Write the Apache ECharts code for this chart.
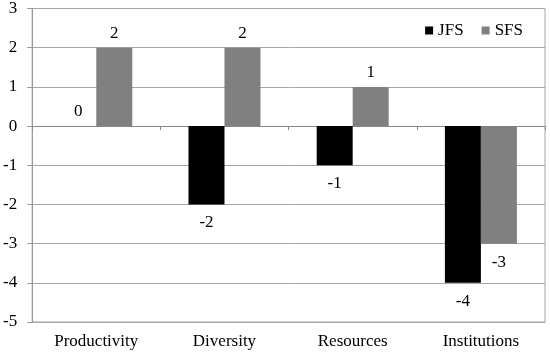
<!DOCTYPE html>
<html>
<head>
<meta charset="utf-8">
<script src="https://cdn.jsdelivr.net/npm/echarts@6/dist/echarts.min.js"></script>
<style>html,body{margin:0;padding:0;background:#fff}#c{width:550px;height:353px}</style>
</head>
<body>
<div id="c"></div>
<script>
var categories = ['Productivity', 'Diversity', 'Resources', 'Institutions'];
var jfsValues = [0, -2, -1, -4];
var sfsValues = [2, 2, 1, -3];
var yTicks = { min: -5, max: 3, interval: 1 };

var font = 'Liberation Serif, Times New Roman, serif';
var gridColor = '#a6a6a6';

function items(vals) {
  return vals.map(function (v) {
    return { value: v, label: v < 0 ? { position: 'bottom', distance: 10 } : { position: 'top', distance: 6 } };
  });
}

var chart = echarts.init(document.getElementById('c'));
chart.setOption({
  animation: false,
  textStyle: { fontFamily: font },
  grid: { left: 31, right: 5, top: 6, bottom: 31, show: true, borderColor: gridColor, borderWidth: 1, backgroundColor: 'transparent' },
  legend: {
    data: ['JFS', 'SFS'],
    right: 22, top: 17,
    icon: 'rect', itemWidth: 8, itemHeight: 8, itemGap: 18,
    textStyle: { fontFamily: font, fontSize: 17, color: '#000' }
  },
  xAxis: [{
    type: 'category', data: categories, position: 'bottom',
    axisLine: { onZero: false, lineStyle: { color: gridColor } },
    axisTick: { show: false },
    axisLabel: { fontFamily: font, fontSize: 17, color: '#000', margin: 11 }
  }, {
    type: 'category', data: categories, position: 'top',
    axisLine: { onZero: true, lineStyle: { color: '#888' } },
    axisTick: { show: true, inside: true, length: 4, lineStyle: { color: '#888' } },
    axisLabel: { show: false }
  }],
  yAxis: {
    type: 'value', min: yTicks.min, max: yTicks.max, interval: yTicks.interval,
    axisLine: { show: true, lineStyle: { color: '#999' } },
    axisTick: { show: true, length: 5, lineStyle: { color: '#999' } },
    splitLine: { lineStyle: { color: gridColor } },
    axisLabel: { fontFamily: font, fontSize: 17, color: '#000', margin: 15 }
  },
  series: [{
    name: 'JFS', type: 'bar', data: items(jfsValues), barWidth: 36, barGap: '0%',
    itemStyle: { color: '#000000' },
    label: { show: true, fontFamily: font, fontSize: 17, color: '#000' }
  }, {
    name: 'SFS', type: 'bar', data: items(sfsValues), barWidth: 36, barGap: '0%',
    itemStyle: { color: '#808080' },
    label: { show: true, fontFamily: font, fontSize: 17, color: '#000' }
  }]
});
</script>
</body>
</html>
